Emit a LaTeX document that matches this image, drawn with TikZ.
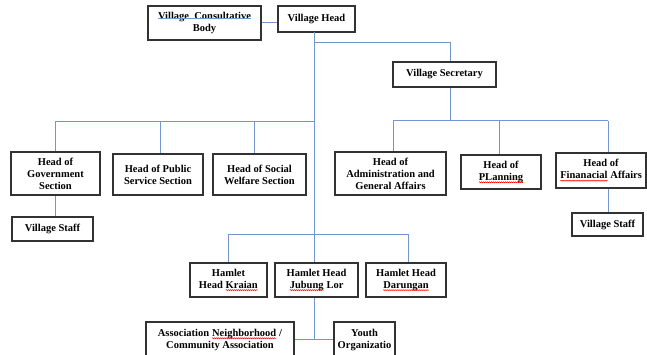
\documentclass[tikz,border=0pt]{standalone}
\usepackage{fontspec}
\setmainfont{Liberation Serif}
\usetikzlibrary{decorations.pathmorphing}
\definecolor{lineblue}{RGB}{115,150,208}
\definecolor{boxgray}{RGB}{50,50,50}
\tikzset{plainword/.style={draw=none,fill=none,minimum width=0pt,minimum height=0pt,
  inner sep=0pt,outer sep=0pt,align=left,anchor=base}}
\newcommand\rwave[1]{\tikz[baseline=(rwn.base),x=1pt,y=1pt]{\node[plainword] (rwn) at (0,0) {#1};
  \draw[red,line width=0.5pt,decorate,decoration={snake,amplitude=0.5pt,segment length=2pt}] ([yshift=-1.8pt]rwn.base west) -- ([yshift=-1.8pt]rwn.base east);}}
\newcommand\bline[1]{\tikz[baseline=(bln.base),x=1pt,y=1pt]{\node[plainword] (bln) at (0,0) {#1};
  \draw[lineblue,line width=0.9pt] ([yshift=0.8pt]bln.base west) -- ([yshift=0.8pt]bln.base east);}}
\begin{document}
\begin{tikzpicture}[x=1pt,y=-1pt,
  box/.style={draw=boxgray,line width=1.2pt,fill=white,rectangle,inner sep=0pt,align=center,
    font=\fontsize{10.5}{12}\selectfont\bfseries},
  link/.style={draw=lineblue,line width=1pt}]
\useasboundingbox (0,0) rectangle (647,355);
\clip (0,0) rectangle (647,355);
\coordinate (top) at (314,32);
\coordinate (br) at (314,43);
\coordinate (lb) at (314,122);
\coordinate (rb) at (450,121);
\coordinate (hb) at (314,234);
\coordinate (bt) at (314,339);
% nodes
\node[box,minimum width=113pt,minimum height=34pt] (vcb) at (204.5,23) {\bline{Village\ \ Consultative}\\Body};
\node[box,minimum width=77pt,minimum height=26pt] (vh) at (316.5,19) {Village Head};
\node[box,minimum width=103pt,minimum height=25pt] (vs) at (444.5,74.5) {Village Secretary};
\node[box,minimum width=89pt,minimum height=43pt] (gov) at (55.5,173.5) {Head of\\Government\\Section};
\node[box,minimum width=90pt,minimum height=41pt] (pub) at (158,174.5) {Head of Public\\Service Section};
\node[box,minimum width=93pt,minimum height=41pt] (soc) at (259.5,174.5) {Head of Social\\Welfare Section};
\node[box,minimum width=81pt,minimum height=24pt] (staffL) at (52.5,229) {Village Staff};
\node[box,minimum width=111pt,minimum height=43pt] (adm) at (390.5,173.5) {Head of\\Administration and\\General Affairs};
\node[box,minimum width=80pt,minimum height=34pt] (plan) at (501,172) {Head of\\\rwave{PLanning}};
\node[box,minimum width=90pt,minimum height=35pt] (fin) at (601,170.5) {Head of\\\rwave{Finanacial} Affairs};
\node[box,minimum width=71pt,minimum height=23pt] (staffR) at (607.5,224.5) {Village Staff};
\node[box,minimum width=77pt,minimum height=34pt] (kra) at (228.5,280) {Hamlet\\Head \rwave{Kraian}};
\node[box,minimum width=83pt,minimum height=34pt] (jub) at (316.5,280) {Hamlet Head\\\rwave{Jubung} Lor};
\node[box,minimum width=80pt,minimum height=34pt] (dar) at (406,280) {Hamlet Head\\\rwave{Darungan}};
\node[box,minimum width=148pt,minimum height=36pt] (assoc) at (220,340) {Association \rwave{Neighborhood} /\\Community Association};
\node[box,minimum width=61pt,minimum height=36pt] (youth) at (364.5,340) {Youth\\Organizatio};
% connectors
\draw[link] (vcb.east) -- (vh.west |- vcb.east);
\draw[link] (top) -- (hb);
\draw[link] (br) -| (vs.north -| rb);
\draw[link] (vs.south -| rb) -- (rb);
\draw[link] (lb) -| (gov.north -| 55,0);
\draw[link] (160,122) -- (pub.north -| 160,0);
\draw[link] (254,122) -- (soc.north -| 254,0);
\draw[link] (gov.south -| 55,0) -- (staffL.north -| 55,0);
\draw[link] (393,121) -| (adm.north -| 393,0);
\draw[link] (393,121) -- (608,121);
\draw[link] (499,121) -- (plan.north -| 499,0);
\draw[link] (608,121) -- (fin.north -| 608,0);
\draw[link] (fin.south -| 608,0) -- (staffR.north -| 608,0);
\draw[link] (hb) -| (kra.north -| 228,0);
\draw[link] (hb) -| (dar.north -| 408,0);
\draw[link] (hb) -- (jub.north -| hb);
\draw[link] (jub.south -| hb) -- (bt);
\draw[link] (assoc.east |- bt) -- (youth.west |- bt);
\end{tikzpicture}
\end{document}
